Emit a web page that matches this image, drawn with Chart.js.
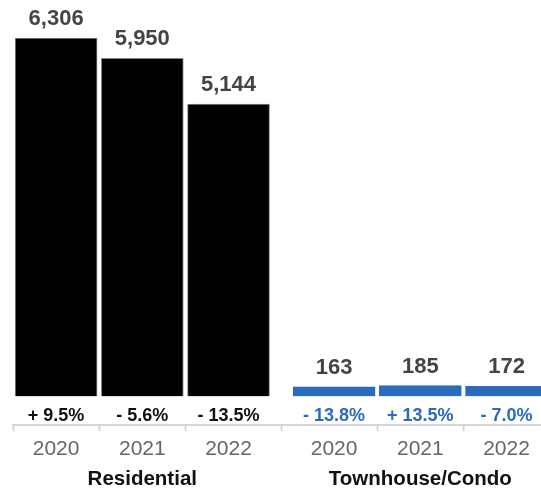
<!DOCTYPE html>
<html>
<head>
<meta charset="utf-8">
<script src="https://cdn.jsdelivr.net/npm/chart.js@4/dist/chart.umd.min.js"></script>
<style>
  html, body { margin: 0; padding: 0; background: #fff; overflow: hidden; }
  #wrap { width: 541px; height: 490px; overflow: hidden; }
</style>
</head>
<body>
<div id="wrap"><canvas id="c" width="541" height="493"></canvas></div>
<script>
// ---- data ----
const years = ['2020', '2021', '2022'];
const groups = ['Residential', 'Townhouse/Condo'];
const residential = [6306, 5950, 5144];
const townhouse = [163, 185, 172];
const residentialChange = [9.5, -5.6, -13.5];
const townhouseChange = [-13.8, 13.5, -7.0];

// ---- layout / style ----
const GROUP_GAP = 0.225;          // extra spacing between the two groups (in category units)
const BLACK = '#000000';
const BLUE = '#2a6bbb';
const FONT = "'Liberation Sans', Arial, Helvetica, sans-serif";

const seriesList = [residential, townhouse];
const changeList = [residentialChange, townhouseChange];
const colorList = [BLACK, BLUE];
const textColorList = ['#111111', BLUE];

const points = [], bg = [], border = [], changes = [], pctColors = [], tickPos = [], groupPos = [];
seriesList.forEach((arr, g) => {
  const offset = g * (years.length + GROUP_GAP);
  groupPos.push(offset + (years.length - 1) / 2);
  arr.forEach((v, i) => {
    const pos = offset + i;
    tickPos.push(pos);
    points.push({ x: pos, y: v });
    bg.push(colorList[g]);
    border.push(g === 0 ? '#8a8a8a' : BLUE);
    changes.push(changeList[g][i]);
    pctColors.push(textColorList[g]);
  });
});
const tickLabels = groups.flatMap(() => years);

function fmtChange(v) {
  return (v >= 0 ? '+ ' : '- ') + Math.abs(v).toFixed(1) + '%';
}

const labelPlugin = {
  id: 'barLabels',
  afterDatasetsDraw(chart) {
    const ctx = chart.ctx;
    const meta = chart.getDatasetMeta(0);
    ctx.save();
    ctx.textAlign = 'center';
    ctx.textBaseline = 'alphabetic';
    meta.data.forEach((bar, i) => {
      const p = bar.getProps(['x', 'y', 'base'], true);
      ctx.font = 'bold 22px ' + FONT;
      ctx.fillStyle = '#444444';
      ctx.fillText(points[i].y.toLocaleString('en-US'), p.x, p.y - 13);
      ctx.font = 'bold 18px ' + FONT;
      ctx.fillStyle = pctColors[i];
      ctx.fillText(fmtChange(changes[i]), p.x, p.base + 25);
    });
    ctx.restore();
  }
};

const X_MIN = -0.5, X_MAX = 5.625;

new Chart(document.getElementById('c'), {
  type: 'bar',
  data: {
    datasets: [{
      data: points,
      backgroundColor: bg,
      borderColor: border,
      borderWidth: 1,
      barThickness: 82,
      xAxisID: 'x',
      yAxisID: 'y'
    }]
  },
  options: {
    responsive: false,
    animation: false,
    devicePixelRatio: 1,
    layout: { padding: { left: 13, right: 0, top: 0, bottom: 0 } },
    plugins: { legend: { display: false }, tooltip: { enabled: false } },
    scales: {
      y: {
        display: false,
        min: -512,
        max: 6977
      },
      x: {
        type: 'linear',
        position: 'bottom',
        min: X_MIN,
        max: X_MAX,
        offset: false,
        afterBuildTicks: (axis) => { axis.ticks = tickPos.map(v => ({ value: v })); },
        grid: {
          drawOnChartArea: false,
          drawTicks: true,
          tickLength: 6,
          tickWidth: 2,
          tickColor: '#d6d6d6'
        },
        border: { display: true, color: '#d6d6d6', width: 2 },
        ticks: {
          autoSkip: false,
          maxRotation: 0,
          padding: 5,
          color: '#666666',
          font: { family: FONT, size: 21 },
          callback: (value, index) => tickLabels[index]
        }
      },
      groupAxis: {
        type: 'linear',
        position: 'bottom',
        min: X_MIN,
        max: X_MAX,
        offset: false,
        afterBuildTicks: (axis) => { axis.ticks = groupPos.map(v => ({ value: v })); },
        grid: { display: false, drawTicks: false },
        border: { display: false },
        ticks: {
          autoSkip: false,
          maxRotation: 0,
          padding: 1,
          color: '#111111',
          font: { family: FONT, size: 20.5, weight: 'bold' },
          callback: (value, index) => groups[index]
        }
      }
    }
  },
  plugins: [labelPlugin]
});
</script>
</body>
</html>
